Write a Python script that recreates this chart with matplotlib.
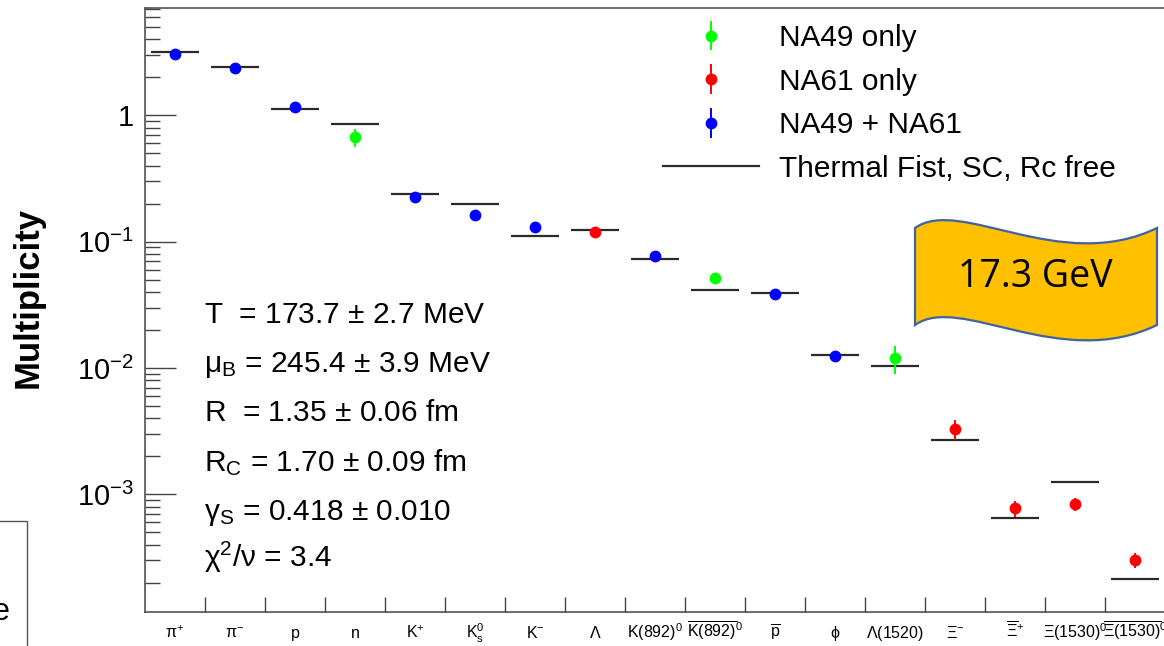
import numpy as np
import matplotlib
matplotlib.use("Agg")
import matplotlib.pyplot as plt
from matplotlib.path import Path
from matplotlib.patches import PathPatch
from matplotlib.lines import Line2D
from matplotlib.ticker import FixedLocator, LogLocator, NullFormatter, FuncFormatter

plt.rcParams["font.family"] = ["Liberation Sans", "DejaVu Sans"]
plt.rcParams["mathtext.fontset"] = "custom"
plt.rcParams["mathtext.rm"] = "Liberation Sans"
plt.rcParams["mathtext.it"] = "Liberation Sans:italic"
plt.rcParams["mathtext.bf"] = "Liberation Sans:bold"

W, H = 1164, 646

# particles (x axis)
particles = [
    r"$\mathrm{\pi^{+}}$", r"$\mathrm{\pi^{-}}$", "p", "n", r"$\mathrm{K^{+}}$",
    r"$\mathrm{K^{0}_{s}}$", r"$\mathrm{K^{-}}$", r"$\mathrm{\Lambda}$",
    r"K(892)$^{0}$", r"$\mathrm{\overline{K(892)}^{0}}$", r"$\mathrm{\overline{p}}$",
    r"$\mathrm{\phi}$", r"$\mathrm{\Lambda}$(1520)", r"$\mathrm{\Xi^{-}}$",
    r"$\mathrm{\overline{\Xi}^{+}}$", r"$\mathrm{\Xi}$(1530)$^{0}$",
    r"$\mathrm{\overline{\Xi(1530)}^{0}}$",
]
# measured multiplicities
measured = [3.04, 2.37, 1.17, 0.673, 0.227, 0.162, 0.130, 0.119, 0.0765, 0.0515,
            0.0387, 0.0124, 0.0119, 0.00328, 0.000773, 0.000832, 0.000301]
errors = [0.08, 0.07, 0.04, 0.11, 0.006, 0.005, 0.004, 0.004, 0.003, 0.003,
          0.0012, 0.0004, 0.0030, 0.0006, 0.00011, 0.00010, 0.00004]
# data source: 0 = NA49 only, 1 = NA61 only, 2 = NA49 + NA61
source = [2, 2, 2, 0, 2, 2, 2, 1, 2, 0, 2, 2, 0, 1, 1, 1, 1]
# Thermal-FIST model values
thermal = [3.17, 2.43, 1.12, 0.858, 0.237, 0.1995, 0.111, 0.124, 0.0732, 0.0414,
           0.0392, 0.0127, 0.0104, 0.0027, 0.000652, 0.00124, 0.000212]

group_names = ["NA49 only", "NA61 only", "NA49 + NA61"]
group_colors = ["#00ff00", "#ff0000", "#0000ff"]

fit_lines = [
    r"T  = 173.7 $\pm$ 2.7 MeV",
    r"$\mathrm{\mu_{B}}$ = 245.4 $\pm$ 3.9 MeV",
    r"R  = 1.35 $\pm$ 0.06 fm",
    r"R$_{\mathrm{C}}$ = 1.70 $\pm$ 0.09 fm",
    r"$\mathrm{\gamma_{S}}$ = 0.418 $\pm$ 0.010",
    r"$\mathrm{\chi^{2}/\nu}$ = 3.4",
]
fit_y = [323, 372, 421, 471, 520, 567]


def px(x, y):
    return x / W, 1 - y / H


fig = plt.figure(figsize=(W / 100, H / 100), dpi=100)
ax = fig.add_axes([145 / W, 34 / H, 1020 / W, 604 / H])

x = np.arange(len(particles))
meas = np.array(measured)
err = np.array(errors)
src = np.array(source)

ax.hlines(thermal, x - 0.4, x + 0.4, color="#2a2a2a", lw=1.6, zorder=2)

handles = []
for g, (name, col) in enumerate(zip(group_names, group_colors)):
    m = src == g
    h = ax.errorbar(x[m], meas[m], yerr=err[m], fmt="o", color=col, ms=8.5,
                    mew=0, elinewidth=1.4, capsize=0, zorder=3, label=name)
    handles.append(h)
handles.append(Line2D([], [], color="#2a2a2a", lw=1.6))

ax.set_yscale("log")
ax.set_ylim(1.17e-4, 7.07)
ax.set_xlim(-0.5, len(particles) - 0.5)

ax.yaxis.set_major_locator(LogLocator(base=10, numticks=10))
ax.yaxis.set_minor_locator(LogLocator(base=10, subs=np.arange(2, 10), numticks=20))
ax.yaxis.set_minor_formatter(NullFormatter())
ax.yaxis.set_major_formatter(FuncFormatter(
    lambda v, p: "1" if abs(v - 1) < 1e-9 else r"$\mathrm{10^{%d}}$" % round(np.log10(v))))
ax.tick_params(axis="y", which="major", direction="in", length=22, width=1.0,
               labelsize=21, pad=8, color="#444444")
ax.tick_params(axis="y", which="minor", direction="in", length=11, width=1.0,
               color="#444444")

ax.set_xticks(x)
ax.set_xticklabels(particles)
for lbl in ax.get_xticklabels():
    lbl.set_verticalalignment("baseline")
ax.xaxis.set_minor_locator(FixedLocator(x[:-1] + 0.5))
ax.tick_params(axis="x", which="major", length=0, labelsize=11.5, pad=19)
ax.tick_params(axis="x", which="minor", direction="in", length=11, width=1.0,
               color="#444444")

for s in ax.spines.values():
    s.set_color("#444444")
    s.set_linewidth(1.1)

fig.text(*px(28, 297), "Multiplicity", rotation=90, ha="center", va="center",
         fontsize=25, fontweight="bold")

for line, yb in zip(fit_lines, fit_y):
    fig.text(*px(204, yb), line, ha="left", va="baseline", fontsize=21.5)

ax.legend(handles, group_names + ["Thermal Fist, SC, Rc free"],
          loc="upper left", bbox_to_anchor=px(663, 24), bbox_transform=fig.transFigure,
          frameon=False, fontsize=21.5, handlelength=3.2, handletextpad=0.7,
          labelspacing=0.52, borderpad=0, borderaxespad=0)

# energy banner
top = [(915, 228), (960, 196), (1060, 275), (1157, 228)]
bot = [(1157, 325), (1060, 372), (960, 293), (915, 325)]
verts = top + bot + [(915, 228)]
codes = [Path.MOVETO, Path.CURVE4, Path.CURVE4, Path.CURVE4, Path.LINETO,
         Path.CURVE4, Path.CURVE4, Path.CURVE4, Path.CLOSEPOLY]
verts = [px(a, b) for a, b in verts]
banner = PathPatch(Path(verts, codes), facecolor="#ffc000", edgecolor="#3f62a0",
                   lw=1.6, transform=fig.transFigure, zorder=5)
fig.add_artist(banner)
fig.text(*px(1035, 277), "17.3 GeV", ha="center", va="center", fontsize=27,
         family="Open Sans", zorder=6)

# fragment of a neighbouring box at the lower left
fig.add_artist(Line2D([0, 27 / W, 27 / W], [1 - 521 / H, 1 - 521 / H, 0],
                      color="#555555", lw=1.0, transform=fig.transFigure))
fig.text(*px(10, 612), "e", ha="right", va="center", fontsize=22)

fig.savefig("out.png", dpi=100)
